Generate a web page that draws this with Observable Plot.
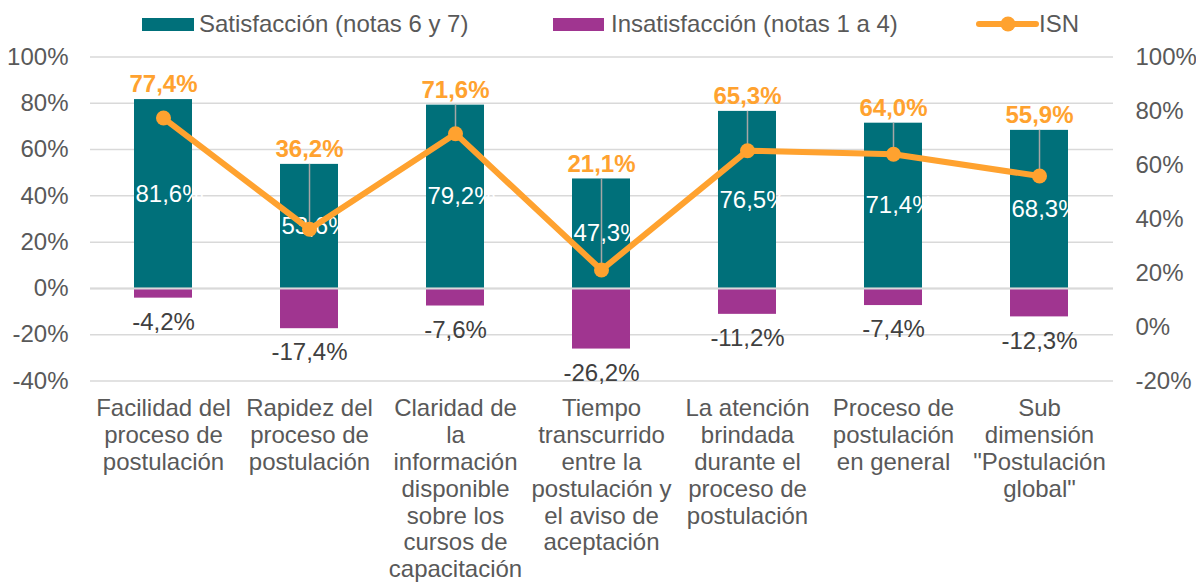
<!DOCTYPE html>
<html>
<head>
<meta charset="utf-8">
<script src="https://cdn.jsdelivr.net/npm/d3@7"></script>
<script src="https://cdn.jsdelivr.net/npm/@observablehq/plot@0.6"></script>
<style>
  body { margin: 0; background: #fff; font-family: "Liberation Sans", Arial, sans-serif; }
  #legend { position: relative; height: 40px; width: 1196px; }
  .sw { position: absolute; }
  .lt { position: absolute; top: 12px; font-size: 24px; line-height: 24px; color: #595959; white-space: nowrap; }
</style>
</head>
<body>
<div id="legend">
  <div class="sw" style="left:142px;top:18px;width:52px;height:13px;background:#00707a"></div>
  <div class="lt" style="left:199px">Satisfacción (notas 6 y 7)</div>
  <div class="sw" style="left:553px;top:18px;width:51px;height:13px;background:#a03590"></div>
  <div class="lt" style="left:611px">Insatisfacción (notas 1 a 4)</div>
  <svg class="sw" style="left:976px;top:14px" width="64" height="20">
    <line x1="3" y1="10" x2="60" y2="10" stroke="#ffa22f" stroke-width="6" stroke-linecap="round"/>
    <circle cx="32" cy="10" r="7.5" fill="#ffa22f"/>
  </svg>
  <div class="lt" style="left:1039px">ISN</div>
</div>
<div id="chart"></div>
<script>
// ---- data ----
const categories = [
  "Facilidad del\nproceso de\npostulación",
  "Rapidez del\nproceso de\npostulación",
  "Claridad de\nla\ninformación\ndisponible\nsobre los\ncursos de\ncapacitación",
  "Tiempo\ntranscurrido\nentre la\npostulación y\nel aviso de\naceptación",
  "La atención\nbrindada\ndurante el\nproceso de\npostulación",
  "Proceso de\npostulación\nen general",
  "Sub\ndimensión\n\"Postulación\nglobal\""
];
const satisfaccion   = [81.6, 53.6, 79.2, 47.3, 76.5, 71.4, 68.3];
const insatisfaccion = [-4.2, -17.4, -7.6, -26.2, -11.2, -7.4, -12.3];
const isn            = [77.4, 36.2, 71.6, 21.1, 65.3, 64.0, 55.9];
const leftTicks  = [-40, -20, 0, 20, 40, 60, 80, 100];
const rightTicks = [-20, 0, 20, 40, 60, 80, 100];

// ---- helpers ----
const teal = "#00707a", purple = "#a03590", orange = "#ffa22f";
// secondary axis [-20,100] mapped onto primary axis [-40,100]
const toLeft = v => -40 + (v + 20) * 140 / 120;
const fromLeft = v => (v + 40) * 120 / 140 - 20;
const fmt = v => v.toFixed(1).replace(".", ",") + "%";

const rows = categories.map((c, i) => ({
  cat: c, sat: satisfaccion[i], neg: insatisfaccion[i], isn: isn[i], isnL: toLeft(isn[i])
}));

const chart = Plot.plot({
  width: 1196,
  height: 545,
  marginTop: 16.5,
  marginBottom: 204.5,
  marginLeft: 90,
  marginRight: 83,
  style: { fontFamily: "'Liberation Sans', Arial, sans-serif", fontSize: "24px", color: "#595959", background: "#fff" },
  x: { domain: categories, paddingInner: 0.6, paddingOuter: 0.3 },
  y: { domain: [-40, 100] },
  marks: [
    Plot.gridY(leftTicks, { stroke: "#d9d9d9", strokeOpacity: 1, strokeWidth: 1.5 }),
    Plot.barY(rows, { x: "cat", y: "sat", fill: teal }),
    Plot.barY(rows, { x: "cat", y: "neg", fill: purple }),
    Plot.ruleY([0], { stroke: "#d9d9d9", strokeWidth: 2 }),
    Plot.text(rows, { x: "cat", y: d => d.sat / 2, text: d => fmt(d.sat), fill: "white", dx: 6, fontSize: 24 }),
    Plot.text(rows, { x: "cat", y: "neg", text: d => fmt(d.neg), fill: "#404040", dy: 24, fontSize: 24 }),
    Plot.ruleX(rows.filter(d => d.sat - d.isnL > 10), { x: "cat", y1: "sat", y2: "isnL", stroke: "#a6a6a6", strokeWidth: 1.5 }),
    Plot.line(rows, { x: "cat", y: "isnL", stroke: orange, strokeWidth: 6 }),
    Plot.dot(rows, { x: "cat", y: "isnL", r: 7.5, fill: orange }),
    Plot.text(rows, { x: "cat", y: "sat", text: d => fmt(d.isn), fill: orange, fontWeight: "bold", fontSize: 24, dy: -15 }),
    Plot.axisY(leftTicks, { anchor: "left", tickSize: 0, tickPadding: 22, tickFormat: d => d + "%", label: null }),
    Plot.axisY(rightTicks.map(toLeft), { anchor: "right", tickSize: 0, tickPadding: 22, tickFormat: d => Math.round(fromLeft(d)) + "%", label: null }),
    Plot.axisX({ tickSize: 0, tickPadding: 16, lineHeight: 1.12, label: null })
  ]
});
document.getElementById("chart").appendChild(chart);
</script>
</body>
</html>
